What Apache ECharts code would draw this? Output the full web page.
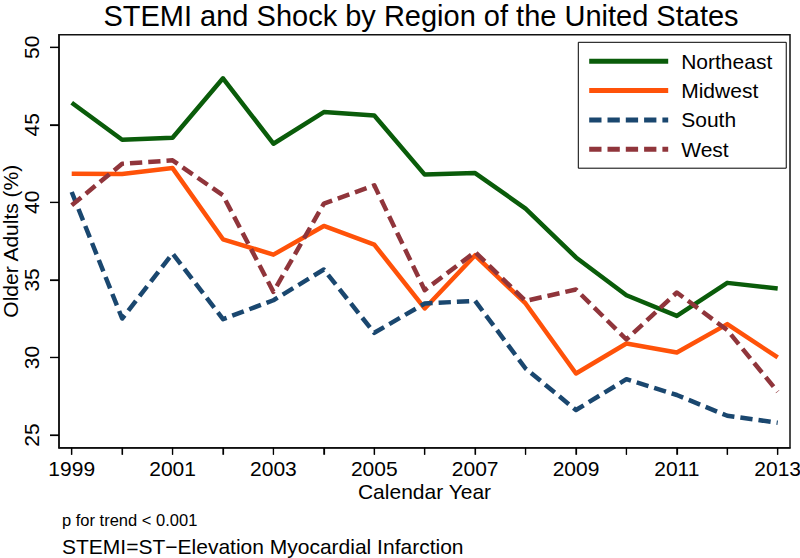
<!DOCTYPE html>
<html>
<head>
<meta charset="utf-8">
<script src="https://cdn.jsdelivr.net/npm/echarts@6/dist/echarts.min.js"></script>
<style>
html,body{margin:0;padding:0;background:#fff;}
#chart{width:800px;height:558px;}
</style>
</head>
<body>
<div id="chart"></div>
<script>
var years = [1999,2000,2001,2002,2003,2004,2005,2006,2007,2008,2009,2010,2011,2012,2013];
var xTickLabels = ['1999','2001','2003','2005','2007','2009','2011','2013'];
var yTickValues = [25,30,35,40,45,50];
var northeast = [46.42,44.04,44.17,48.0,43.78,45.82,45.6,41.79,41.89,39.6,36.45,34.01,32.68,34.81,34.44];
var midwest   = [41.85,41.83,42.21,37.62,36.63,38.48,37.28,33.16,36.59,33.48,28.97,30.9,30.32,32.15,30.0];
var south     = [40.67,32.51,36.7,32.47,33.69,35.67,31.59,33.48,33.65,29.29,26.61,28.6,27.58,26.24,25.79];
var west      = [39.81,42.49,42.71,40.45,34.23,39.92,41.1,34.34,36.8,33.65,34.38,31.16,34.19,31.76,27.79];
var seriesNames = ['Northeast','Midwest','South','West'];

function pairs(arr){ return years.map(function(y,i){ return [y, arr[i]]; }); }

var FONT = "'Liberation Sans', Arial, Helvetica, sans-serif";
var chart = echarts.init(document.getElementById('chart'), null, {renderer:'svg', width:800, height:558});

var X_MIN = 1998.748, X_MAX = 2013.244, Y_MIN = 24.182, Y_MAX = 50.811;
var dash = [12.3, 6];
function mkSeries(name, data, color, dashed){
  return {
    name: name, type: 'line', data: pairs(data),
    symbol: 'none', showSymbol: false,
    lineStyle: {color: color, width: 4.5, type: dashed ? dash : 'solid', cap: 'butt', join: 'round'},
    itemStyle: {color: color},
    emphasis: {disabled: true},
    animation: false
  };
}

chart.setOption({
  animation: false,
  backgroundColor: '#fff',
  title: [
    {text: 'STEMI and Shock by Region of the United States', left: 421, top: 1, padding: 0, textAlign: 'center',
     textStyle: {fontFamily: FONT, fontSize: 29, fontWeight: 'normal', color: '#000'}},
    {text: 'p for trend < 0.001', left: 62, top: 511.5, padding: 0,
     textStyle: {fontFamily: FONT, fontSize: 16.5, fontWeight: 'normal', color: '#000'}},
    {text: 'STEMI=ST\u2212Elevation Myocardial Infarction', left: 62, top: 536, padding: 0,
     textStyle: {fontFamily: FONT, fontSize: 21, fontWeight: 'normal', color: '#000'}}
  ],
  legend: {
    orient: 'vertical', left: 578.3, top: 42.3,
    data: seriesNames,
    borderColor: '#000', borderWidth: 1,
    padding: [8.5, 14, 8.5, 8.4],
    itemWidth: 79, itemHeight: 14, itemGap: 8.3,
    itemStyle: {opacity: 0},
    lineStyle: {width: 5, cap: 'butt'},
    textStyle: {fontFamily: FONT, fontSize: 21, color: '#000', padding: [0,0,0,8], lineHeight: 21},
    selectedMode: false
  },
  grid: {left: 59, right: 10, top: 34.7, bottom: 110.3, containLabel: false,
         show: true, borderColor: '#111', borderWidth: 1.5, backgroundColor: 'transparent',
         outerBounds: {left: -200, right: -200, top: -200, bottom: -200}},
  xAxis: {
    type: 'value', min: X_MIN, max: X_MAX,
    name: 'Calendar Year', nameLocation: 'middle', nameGap: 33, nameMoveOverlap: false,
    nameTextStyle: {fontFamily: FONT, fontSize: 21, color: '#000'},
    axisLine: {show: true, lineStyle: {color: '#111', width: 1.5}},
    axisTick: {show: true, length: 7, customValues: years, lineStyle: {color: '#000', width: 1.2}},
    axisLabel: {fontFamily: FONT, fontSize: 21, color: '#000', margin: 10,
      customValues: xTickLabels.map(Number),
      formatter: function(v){ return String(v); }},
    splitLine: {show: false}
  },
  yAxis: {
    type: 'value', min: Y_MIN, max: Y_MAX,
    name: 'Older Adults (%)', nameLocation: 'middle', nameGap: 38, nameMoveOverlap: false,
    nameTextStyle: {fontFamily: FONT, fontSize: 21, color: '#000'},
    axisLine: {show: true, lineStyle: {color: '#111', width: 1.5}},
    axisTick: {show: true, length: 9, customValues: yTickValues, lineStyle: {color: '#000', width: 1.2}},
    axisLabel: {fontFamily: FONT, fontSize: 21, color: '#000', margin: 17, rotate: 90,
      customValues: yTickValues, formatter: function(v){ return String(v); }},
    splitLine: {show: false}
  },
  series: [
    mkSeries('Northeast', northeast, '#0a5c0a', false),
    mkSeries('Midwest', midwest, '#ff5209', false),
    mkSeries('South', south, '#1a476f', true),
    mkSeries('West', west, '#90353b', true)
  ]
});

// Tick marks placed through the axes' own scales (fallback so they always show)
var tickEls = [];
years.forEach(function(y){
  var p = chart.convertToPixel({gridIndex: 0}, [y, Y_MIN]);
  tickEls.push({type: 'line', silent: true, z: 50,
    shape: {x1: p[0], y1: p[1], x2: p[0], y2: p[1] + 7},
    style: {stroke: '#000', lineWidth: 1.2}});
});
yTickValues.forEach(function(v){
  var p = chart.convertToPixel({gridIndex: 0}, [X_MIN, v]);
  tickEls.push({type: 'line', silent: true, z: 50,
    shape: {x1: p[0] - 9, y1: p[1], x2: p[0], y2: p[1]},
    style: {stroke: '#000', lineWidth: 1.2}});
});
chart.setOption({graphic: tickEls});
</script>
</body>
</html>
